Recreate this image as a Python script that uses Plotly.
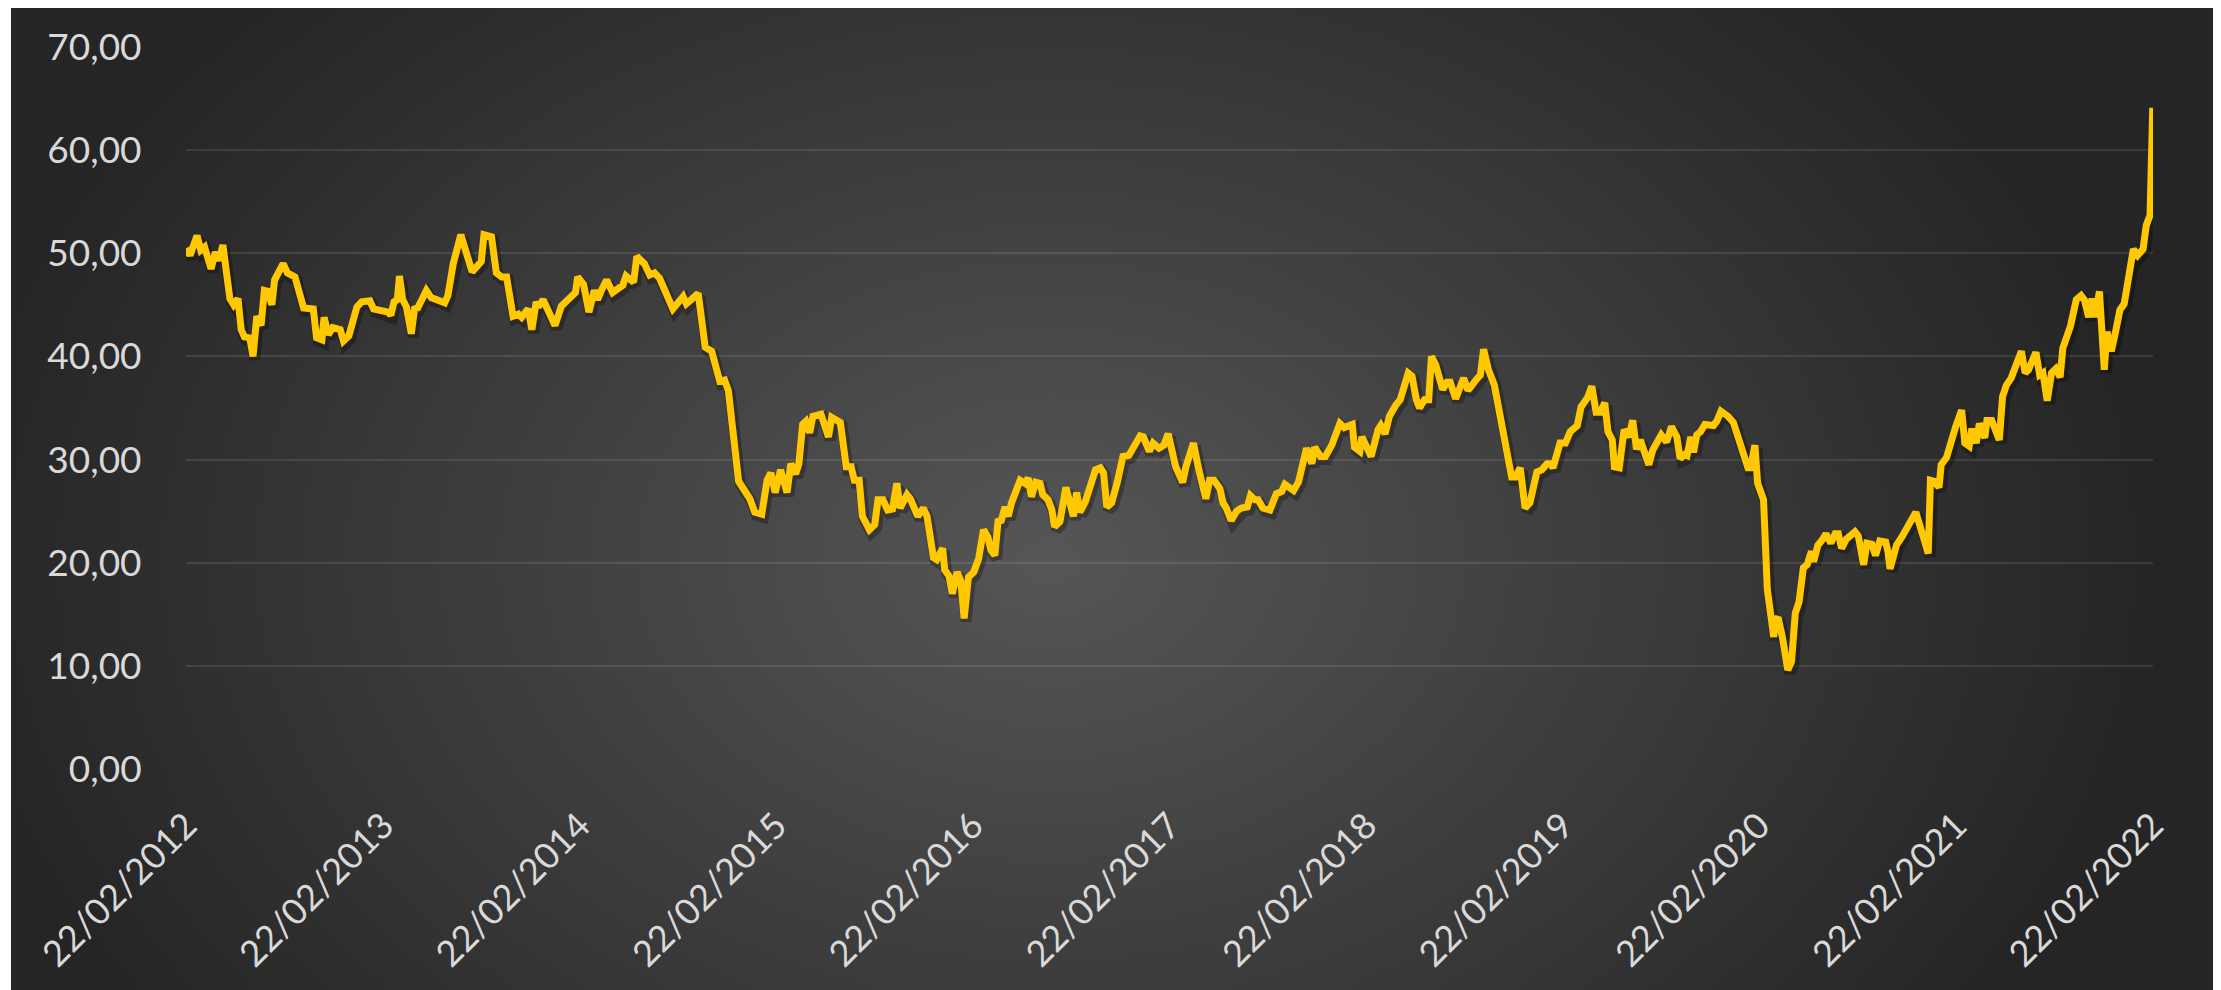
import base64
import struct
import zlib

import numpy as np
import plotly.graph_objects as go

# ---------------- data ----------------
dates = [
    "2012-02-22", "2012-02-29", "2012-03-13", "2012-03-20", "2012-03-27", "2012-04-08", "2012-04-16",
    "2012-04-23", "2012-04-30", "2012-05-07", "2012-05-13", "2012-05-20", "2012-05-28", "2012-06-03",
    "2012-06-09", "2012-06-19", "2012-06-25", "2012-07-02", "2012-07-10", "2012-07-16", "2012-07-23",
    "2012-07-30", "2012-08-04", "2012-08-20", "2012-08-28", "2012-09-11", "2012-09-27", "2012-10-15",
    "2012-10-21", "2012-10-31", "2012-11-04", "2012-11-12", "2012-11-20", "2012-12-04", "2012-12-10",
    "2012-12-20", "2013-01-04", "2013-01-13", "2013-01-28", "2013-02-04", "2013-03-03", "2013-03-08",
    "2013-03-14", "2013-03-20", "2013-03-24", "2013-03-30", "2013-04-06", "2013-04-15", "2013-04-21",
    "2013-04-27", "2013-05-13", "2013-05-22", "2013-06-06", "2013-06-16", "2013-06-22", "2013-07-02",
    "2013-07-16", "2013-07-26", "2013-08-06", "2013-08-23", "2013-08-28", "2013-09-11", "2013-09-20",
    "2013-09-30", "2013-10-09", "2013-10-21", "2013-10-31", "2013-11-06", "2013-11-18", "2013-11-25",
    "2013-12-03", "2013-12-07", "2013-12-16", "2014-01-07", "2014-01-19", "2014-02-14", "2014-02-18",
    "2014-03-01", "2014-03-11", "2014-03-21", "2014-03-27", "2014-04-04", "2014-04-13", "2014-04-24",
    "2014-05-13", "2014-05-19", "2014-06-02", "2014-06-08", "2014-06-22", "2014-07-02", "2014-07-11",
    "2014-07-20", "2014-08-01", "2014-08-14", "2014-09-02", "2014-09-08", "2014-09-30", "2014-10-13",
    "2014-10-25", "2014-11-09", "2014-11-18", "2014-11-25", "2014-12-14", "2015-01-04", "2015-01-13",
    "2015-01-26", "2015-02-05", "2015-02-12", "2015-02-20", "2015-03-02", "2015-03-14", "2015-03-21",
    "2015-03-30", "2015-04-05", "2015-04-12", "2015-04-18", "2015-04-25", "2015-05-01", "2015-05-16",
    "2015-05-30", "2015-06-05", "2015-06-21", "2015-07-02", "2015-07-11", "2015-07-17", "2015-07-26",
    "2015-08-01", "2015-08-14", "2015-08-24", "2015-08-30", "2015-09-08", "2015-09-17", "2015-09-26",
    "2015-10-04", "2015-10-10", "2015-10-23", "2015-10-29", "2015-11-12", "2015-11-22", "2015-11-29",
    "2015-12-11", "2015-12-17", "2015-12-28", "2016-01-01", "2016-01-09", "2016-01-15", "2016-01-24",
    "2016-01-31", "2016-02-06", "2016-02-14", "2016-02-24", "2016-03-04", "2016-03-13", "2016-03-21",
    "2016-03-27", "2016-04-03", "2016-04-09", "2016-04-15", "2016-04-22", "2016-04-28", "2016-05-04",
    "2016-05-20", "2016-05-29", "2016-06-04", "2016-06-10", "2016-06-18", "2016-06-26", "2016-07-01",
    "2016-07-11", "2016-07-18", "2016-07-23", "2016-08-02", "2016-08-13", "2016-08-20", "2016-08-27",
    "2016-09-02", "2016-09-08", "2016-09-18", "2016-09-27", "2016-10-07", "2016-10-16", "2016-10-22",
    "2016-10-28", "2016-11-06", "2016-11-16", "2016-11-27", "2016-12-08", "2016-12-17", "2016-12-29",
    "2017-01-04", "2017-01-15", "2017-01-22", "2017-02-02", "2017-02-11", "2017-02-19", "2017-03-05",
    "2017-03-18", "2017-03-24", "2017-04-07", "2017-04-17", "2017-04-30", "2017-05-07", "2017-05-15",
    "2017-05-26", "2017-06-01", "2017-06-07", "2017-06-16", "2017-06-26", "2017-07-05", "2017-07-16",
    "2017-07-22", "2017-07-30", "2017-08-05", "2017-08-14", "2017-08-27", "2017-09-08", "2017-09-18",
    "2017-09-24", "2017-10-01", "2017-10-10", "2017-10-19", "2017-11-03", "2017-11-13", "2017-11-18",
    "2017-11-29", "2017-12-08", "2017-12-20", "2018-01-04", "2018-01-12", "2018-01-27", "2018-01-31",
    "2018-02-10", "2018-02-14", "2018-02-23", "2018-03-03", "2018-03-16", "2018-03-21", "2018-03-29",
    "2018-04-06", "2018-04-18", "2018-04-26", "2018-05-11", "2018-05-18", "2018-05-26", "2018-06-01",
    "2018-06-10", "2018-06-18", "2018-06-23", "2018-07-01", "2018-07-14", "2018-07-22", "2018-07-28",
    "2018-08-07", "2018-08-22", "2018-08-30", "2018-09-15", "2018-09-22", "2018-09-28", "2018-10-07",
    "2018-10-18", "2018-11-19", "2018-11-26", "2018-12-05", "2018-12-14", "2018-12-23", "2019-01-05",
    "2019-01-14", "2019-01-24", "2019-01-30", "2019-02-04", "2019-02-17", "2019-02-27", "2019-03-08",
    "2019-03-21", "2019-03-28", "2019-04-09", "2019-04-17", "2019-04-25", "2019-05-03", "2019-05-11",
    "2019-05-17", "2019-05-25", "2019-05-29", "2019-06-07", "2019-06-16", "2019-06-25", "2019-07-02",
    "2019-07-09", "2019-07-16", "2019-08-01", "2019-08-08", "2019-08-24", "2019-09-03", "2019-09-12",
    "2019-09-22", "2019-09-28", "2019-10-07", "2019-10-11", "2019-10-18", "2019-10-23", "2019-10-29",
    "2019-11-05", "2019-11-13", "2019-11-29", "2019-12-05", "2019-12-13", "2019-12-26", "2020-01-05",
    "2020-01-14", "2020-01-24", "2020-02-01", "2020-02-06", "2020-02-14", "2020-02-19", "2020-02-24",
    "2020-03-01", "2020-03-08", "2020-03-15", "2020-03-20", "2020-03-23", "2020-03-28", "2020-04-05",
    "2020-04-15", "2020-04-22", "2020-04-29", "2020-05-06", "2020-05-14", "2020-05-21", "2020-05-29",
    "2020-06-02", "2020-06-10", "2020-06-18", "2020-06-25", "2020-07-04", "2020-07-12", "2020-07-18",
    "2020-07-24", "2020-08-02", "2020-08-18", "2020-08-24", "2020-09-03", "2020-09-09", "2020-09-18",
    "2020-09-25", "2020-10-03", "2020-10-14", "2020-10-18", "2020-10-22", "2020-11-03", "2020-11-13",
    "2020-12-09", "2021-01-01", "2021-01-05", "2021-01-12", "2021-01-21", "2021-01-25", "2021-02-04",
    "2021-02-21", "2021-03-04", "2021-03-10", "2021-03-18", "2021-03-23", "2021-03-31", "2021-04-06",
    "2021-04-16", "2021-04-20", "2021-04-29", "2021-05-13", "2021-05-19", "2021-05-26", "2021-06-04",
    "2021-06-23", "2021-06-30", "2021-07-06", "2021-07-20", "2021-07-27", "2021-08-02", "2021-08-10",
    "2021-08-18", "2021-08-26", "2021-09-03", "2021-09-08", "2021-09-15", "2021-09-22", "2021-10-03",
    "2021-10-12", "2021-10-18", "2021-10-26", "2021-11-01", "2021-11-07", "2021-11-15", "2021-11-24",
    "2021-11-29", "2021-12-07", "2021-12-15", "2021-12-23", "2021-12-31", "2022-01-08", "2022-01-17",
    "2022-01-25", "2022-02-04", "2022-02-10", "2022-02-17", "2022-02-22",
]

prices = [
    50.5, 49.8, 51.7, 50.3, 50.6, 48.5, 50.1,
    49.3, 50.8, 47.1, 45.6, 45.0, 45.6, 42.6,
    41.9, 41.8, 40.0, 43.9, 43.0, 46.4, 46.3,
    45.0, 47.4, 49.0, 48.1, 47.7, 44.7, 44.6,
    41.8, 41.6, 43.8, 42.1, 42.8, 42.6, 41.5,
    42.0, 44.8, 45.3, 45.4, 44.6, 44.3, 44.0,
    45.3, 45.5, 47.8, 45.5, 44.8, 42.2, 44.6,
    44.7, 46.4, 45.7, 45.5, 45.2, 45.9, 49.0,
    51.8, 50.2, 48.2, 49.2, 51.8, 51.6, 48.1,
    47.7, 47.7, 43.9, 44.1, 43.8, 44.6, 42.6,
    45.3, 44.8, 45.5, 43.0, 44.9, 46.2, 47.7,
    47.0, 44.3, 46.4, 45.5, 46.5, 47.4, 46.2,
    46.9, 47.8, 47.2, 49.7, 49.0, 47.9, 48.1,
    47.6, 46.0, 44.6, 45.8, 45.1, 46.1, 40.9,
    40.5, 37.6, 37.7, 36.7, 27.9, 26.2, 24.9,
    24.7, 28.0, 28.7, 26.8, 29.0, 26.8, 29.6,
    28.6, 29.6, 33.4, 33.7, 32.6, 34.2, 34.4,
    32.2, 34.1, 33.6, 29.3, 29.3, 28.0, 28.0,
    24.5, 23.2, 23.7, 26.1, 26.1, 25.1, 25.2,
    27.7, 25.3, 26.6, 26.2, 24.5, 25.3, 24.5,
    20.5, 20.3, 21.4, 19.3, 18.7, 17.0, 19.1,
    18.2, 14.6, 18.6, 19.1, 20.4, 23.2, 22.5,
    21.2, 20.7, 24.0, 24.1, 25.4, 24.5, 25.8,
    28.0, 27.7, 28.2, 26.4, 27.8, 27.7, 26.6,
    26.1, 25.1, 23.5, 24.0, 27.3, 26.1, 24.5,
    26.8, 24.9, 25.9, 27.4, 29.0, 29.2, 28.7,
    25.4, 25.8, 27.7, 30.3, 30.4, 31.3, 32.3,
    32.2, 30.8, 31.6, 31.1, 31.4, 32.5, 29.3,
    27.8, 29.3, 31.6, 29.0, 26.2, 28.0, 28.0,
    27.2, 25.8, 25.3, 24.1, 25.0, 25.3, 25.4,
    26.5, 26.1, 26.1, 25.3, 25.1, 26.7, 26.9,
    27.6, 27.4, 27.0, 27.8, 31.1, 29.6, 31.2,
    30.3, 30.3, 31.4, 33.5, 33.1, 33.4, 31.2,
    30.8, 32.2, 31.1, 30.3, 32.9, 33.3, 32.5,
    34.2, 35.3, 35.8, 38.4, 38.1, 35.8, 35.0,
    35.8, 35.8, 40.0, 39.2, 36.8, 37.5, 37.5,
    35.9, 37.9, 36.7, 37.8, 38.2, 40.7, 38.7,
    37.2, 28.3, 28.3, 29.2, 25.3, 25.8, 28.8,
    29.0, 29.6, 29.6, 29.2, 31.6, 31.6, 32.7,
    33.3, 35.1, 36.0, 37.1, 34.6, 34.6, 35.5,
    32.7, 31.9, 29.3, 29.2, 32.9, 32.2, 33.8,
    31.0, 31.9, 29.5, 30.9, 32.4, 31.7, 33.2,
    32.2, 30.1, 30.5, 30.4, 32.2, 30.7, 32.4,
    32.7, 33.4, 33.3, 33.7, 34.7, 34.2, 33.6,
    32.1, 30.0, 29.2, 29.2, 31.4, 27.7, 27.1,
    26.1, 17.4, 14.4, 12.8, 14.4, 14.7, 12.8,
    9.6, 10.4, 15.1, 16.2, 19.5, 19.8, 21.1,
    20.1, 21.7, 22.2, 22.8, 21.9, 22.8, 22.8,
    21.4, 22.3, 23.0, 22.6, 19.8, 21.9, 21.8,
    20.7, 22.1, 22.0, 21.1, 19.4, 21.7, 22.5,
    24.9, 20.9, 28.0, 27.9, 27.3, 29.5, 30.2,
    33.2, 34.8, 31.6, 31.3, 33.0, 31.6, 33.5,
    32.1, 33.8, 33.8, 31.9, 36.1, 37.2, 37.9,
    40.5, 38.4, 38.7, 40.4, 38.2, 38.4, 35.7,
    38.4, 38.8, 38.0, 40.8, 41.7, 42.9, 45.5,
    45.9, 45.5, 43.8, 45.6, 43.8, 46.3, 38.7,
    42.4, 40.5, 42.4, 44.5, 45.1, 47.7, 50.4,
    49.8, 50.4, 52.7, 53.7, 64.1,
]

x_tick_dates = ["2012-02-22", "2013-02-22", "2014-02-22", "2015-02-22", "2016-02-22", "2017-02-22",
                "2018-02-22", "2019-02-22", "2020-02-22", "2021-02-22", "2022-02-22"]
x_tick_labels = ["22/02/2012", "22/02/2013", "22/02/2014", "22/02/2015", "22/02/2016", "22/02/2017",
                 "22/02/2018", "22/02/2019", "22/02/2020", "22/02/2021", "22/02/2022"]
y_tick_vals = [0, 10, 20, 30, 40, 50, 60, 70]
y_tick_labels = ["0,00", "10,00", "20,00", "30,00", "40,00", "50,00", "60,00", "70,00"]

# ---------------- figure geometry (page has an 8px body margin) ----------------
PAGE_OFF = 8
FIG_W, FIG_H = 2221 - PAGE_OFF, 990 - PAGE_OFF
M_L, M_R, M_T, M_B = 186 - PAGE_OFF, 68, 47 - PAGE_OFF, 221
PLOT_W = FIG_W - M_L - M_R
PLOT_H = FIG_H - M_T - M_B

# ---------------- radial gradient background (generated PNG) ----------------
# region in page pixels
BG_X0, BG_X1, BG_Y0, BG_Y1 = 11, 2219, 7, 990
IW, IH = 552, 246
gx = BG_X0 + (np.arange(IW) + 0.5) / IW * (BG_X1 - BG_X0)
gy = BG_Y0 + (np.arange(IH) + 0.5) / IH * (BG_Y1 - BG_Y0)
GX, GY = np.meshgrid(gx, gy)
dist = np.sqrt(((GX - 1050) / 1100) ** 2 + ((GY - 560) / 800) ** 2)
dist = np.clip(dist, 0, 1)
shade = 0x25 + (0x56 - 0x25) * (1 - dist)
pix = np.clip(np.round(shade), 0, 255).astype(np.uint8)
raw = b"".join(b"\x00" + row.tobytes() for row in pix)


def _chunk(tag, data):
    return (struct.pack(">I", len(data)) + tag + data
            + struct.pack(">I", zlib.crc32(tag + data) & 0xFFFFFFFF))


png = (b"\x89PNG\r\n\x1a\n"
       + _chunk(b"IHDR", struct.pack(">IIBBBBB", IW, IH, 8, 0, 0, 0, 0))
       + _chunk(b"IDAT", zlib.compress(raw, 9))
       + _chunk(b"IEND", b""))
bg_uri = "data:image/png;base64," + base64.b64encode(png).decode()

# page pixel -> paper coords
def _px(px):
    return (px - PAGE_OFF - M_L) / PLOT_W


def _py(py):
    return (FIG_H - M_B - (py - PAGE_OFF)) / PLOT_H


# ---------------- traces ----------------
fig = go.Figure()
# soft drop shadow (same data, on a slightly offset hidden axis pair)
fig.add_trace(go.Scatter(
    x=dates, y=prices, mode="lines", xaxis="x", yaxis="y",
    line=dict(color="rgba(0,0,0,0.28)", width=11),
    hoverinfo="skip", showlegend=False,
))
fig.add_trace(go.Scatter(
    x=dates, y=prices, mode="lines", xaxis="x2", yaxis="y2",
    line=dict(color="#FFC800", width=7),
    showlegend=False, name="",
))

TXT = "#d9d9d9"
FONT = "Lato, 'Open Sans', sans-serif"

fig.update_layout(
    width=FIG_W, height=FIG_H,
    margin=dict(l=M_L, r=M_R, t=M_T, b=M_B, pad=0),
    paper_bgcolor="#ffffff",
    plot_bgcolor="rgba(0,0,0,0)",
    showlegend=False,
    font=dict(family=FONT, color=TXT),
    images=[dict(
        source=bg_uri, xref="paper", yref="paper",
        x=_px(BG_X0), y=_py(BG_Y0),
        sizex=(BG_X1 - BG_X0) / PLOT_W, sizey=(BG_Y1 - BG_Y0) / PLOT_H,
        xanchor="left", yanchor="top", sizing="stretch", layer="below",
    )],
    # hidden axes for the shadow: shifted ~2px right and ~3px down
    xaxis=dict(type="date", range=["2012-02-18 12:00", "2022-02-18 12:00"],
               visible=False, showgrid=False, zeroline=False, fixedrange=True),
    yaxis=dict(range=[0.3, 70.3], visible=False, showgrid=False, zeroline=False, fixedrange=True),
    # visible axes
    xaxis2=dict(
        type="date", overlaying="x", anchor="y2", side="bottom",
        range=["2012-02-21 12:00", "2022-02-22 12:00"],
        tickmode="array", tickvals=x_tick_dates, ticktext=x_tick_labels,
        tickangle=-45, tickfont=dict(family=FONT, size=36, color=TXT),
        showgrid=False, zeroline=False, showline=False,
        ticks="outside", ticklen=20, tickcolor="rgba(0,0,0,0)",
    ),
    yaxis2=dict(
        overlaying="y", anchor="x2", side="left",
        range=[0, 70],
        tickmode="array", tickvals=y_tick_vals, ticktext=y_tick_labels,
        tickfont=dict(family=FONT, size=37, color=TXT),
        showgrid=True, gridcolor="rgba(255,255,255,0.10)", gridwidth=1.6,
        zeroline=False, showline=False,
        ticks="outside", ticklen=36, tickcolor="rgba(0,0,0,0)",
    ),
)

fig.write_html("out.html")
